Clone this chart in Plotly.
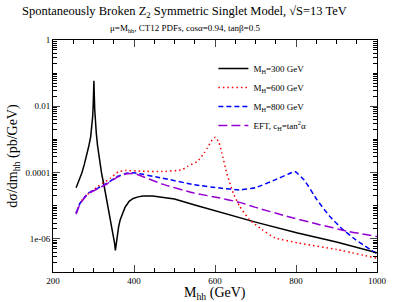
import plotly.graph_objects as go

# ---- data ----
x_300 = [257, 264, 271, 277, 283, 288, 293, 296, 298, 299.5, 300.5, 301, 301.8, 303, 305, 307, 310, 314.6, 320, 326.5, 332, 338, 344, 349, 352, 354, 356, 358, 362, 366, 372, 378, 388, 398, 410, 422, 446, 500, 550, 613, 661, 700, 804, 900, 1000]
y_300 = [3.5e-5, 5.8e-5, 9.5e-5, 1.7e-4, 3.1e-4, 6.0e-4, 1.2e-3, 2.5e-3, 5.0e-3, 1.3e-2, 3.5e-2, 5.9e-2, 2.5e-2, 8.0e-3, 3.0e-3, 1.5e-3, 6.5e-4, 2.5e-4, 9.5e-5, 3.8e-5, 1.65e-5, 7.6e-6, 3.2e-6, 1.3e-6, 7.5e-7, 4.5e-7, 7.0e-7, 1.2e-6, 2.3e-6, 3.8e-6, 6.3e-6, 9.0e-6, 1.35e-5, 1.65e-5, 1.85e-5, 1.95e-5, 1.95e-5, 1.6e-5, 1.05e-5, 6.3e-6, 4.3e-6, 3.2e-6, 1.5e-6, 8.0e-7, 3.8e-7]

x_600 = [257, 267, 279, 311, 342, 362, 380, 420, 470, 517, 533, 557, 573, 581, 593, 601, 610, 617, 629, 645, 661, 685, 716, 748, 804, 900, 1000]
y_600 = [6.0e-6, 1.25e-5, 1.9e-5, 3.8e-5, 6.8e-5, 1.07e-4, 1.15e-4, 1.1e-4, 1.07e-4, 1.2e-4, 1.55e-4, 2.2e-4, 3.9e-4, 5.5e-4, 9.8e-4, 1.17e-3, 8.0e-4, 3.9e-4, 9.5e-5, 2.4e-5, 9.5e-6, 3.8e-6, 1.9e-6, 1.07e-6, 7.6e-7, 4.8e-7, 2.6e-7]

x_800 = [257, 267, 287, 311, 334, 358, 382, 400, 470, 549, 613, 661, 700, 748, 780, 797, 820, 852, 883, 916, 947, 1000]
y_800 = [6.0e-6, 1.2e-5, 2.4e-5, 3.4e-5, 4.8e-5, 7.6e-5, 9.5e-5, 9.8e-5, 6.8e-5, 4.3e-5, 3.4e-5, 3.0e-5, 3.5e-5, 6.0e-5, 8.9e-5, 1.07e-4, 6.0e-5, 1.5e-5, 4.8e-6, 1.9e-6, 9.5e-7, 3.5e-7]

x_eft = [257, 267, 287, 311, 334, 358, 382, 400, 470, 549, 613, 661, 700, 772, 852, 931, 1000]
y_eft = [5.5e-6, 1.15e-5, 2.3e-5, 3.3e-5, 4.6e-5, 7.2e-5, 9.2e-5, 9.4e-5, 4.47e-5, 2.4e-5, 1.7e-5, 1.26e-5, 8.9e-6, 5.0e-6, 2.8e-6, 1.66e-6, 1.17e-6]

x_ticks = [200, 400, 600, 800, 1000]
y_tickvals = [1, 1e-2, 1e-4, 1e-6]
y_ticktext = ["1", "0.01", "0.0001", "1e-06"]

FONT = "Liberation Serif"

fig = go.Figure()
fig.add_trace(go.Scatter(x=x_300, y=y_300, mode="lines", name="M<sub>H</sub>=300 GeV",
                         line=dict(color="black", width=1.5)))
fig.add_trace(go.Scatter(x=x_600, y=y_600, mode="lines", name="M<sub>H</sub>=600 GeV",
                         line=dict(color="#ff0000", width=1.5, dash="1.5px,3px", shape="spline", smoothing=0.4)))
fig.add_trace(go.Scatter(x=x_800, y=y_800, mode="lines", name="M<sub>H</sub>=800 GeV",
                         line=dict(color="#0000ff", width=1.5, dash="5px,3px", shape="spline", smoothing=0.4)))
fig.add_trace(go.Scatter(x=x_eft, y=y_eft, mode="lines", name="EFT, c<sub>H</sub>=tan<sup>2</sup>α",
                         line=dict(color="#9400d3", width=1.5, dash="9px,4px", shape="spline", smoothing=0.4)))

minor_vals = []
for k in range(-7, 0):
    for n in range(1, 10):
        minor_vals.append(n * 10.0 ** k)

fig.update_layout(
    width=399, height=302,
    margin=dict(l=47, r=17, t=40, b=30),
    paper_bgcolor="white", plot_bgcolor="white",
    font=dict(family=FONT, color="black", size=10),
    showlegend=True,
    legend=dict(x=0.495, y=0.94, xanchor="left", yanchor="top",
                bgcolor="rgba(0,0,0,0)", borderwidth=0,
                font=dict(family=FONT, size=9, color="black"),
                itemwidth=30, tracegroupgap=0),
    xaxis=dict(range=[200, 1000], tickvals=x_ticks, ticks="inside", ticklen=7,
               mirror="allticks", showline=True, linecolor="black", linewidth=1,
               showgrid=False, zeroline=False,
               tickfont=dict(family=FONT, size=9),
               minor=dict(dtick=50, ticks="inside", ticklen=4, tickcolor="black")),
    yaxis=dict(type="log", range=[-7, 0], tickvals=y_tickvals, ticktext=y_ticktext,
               ticks="inside", ticklen=7, mirror="allticks", showline=True,
               linecolor="black", linewidth=1, showgrid=False, zeroline=False,
               tickfont=dict(family=FONT, size=9),
               minor=dict(tickvals=minor_vals, ticks="inside", ticklen=4, tickcolor="black"),
               title=dict(text="dσ/dm<sub>hh</sub> (pb/GeV)", font=dict(family=FONT, size=14), standoff=4)),
    annotations=[
        dict(text="Spontaneously Broken Z<sub>2</sub> Symmetric Singlet Model, √S=13 TeV",
             xref="paper", yref="paper", x=0.406, y=1, yshift=28, xanchor="center", yanchor="middle",
             showarrow=False, font=dict(family=FONT, size=12.5)),
        dict(text="μ=M<sub>hh</sub>, CT12 PDFs, cosα=0.94, tanβ=0.5",
             xref="paper", yref="paper", x=0.406, y=1, yshift=12, xanchor="center", yanchor="middle",
             showarrow=False, font=dict(family=FONT, size=9)),
        dict(text="M<sub>hh</sub> (GeV)",
             xref="paper", yref="paper", x=0.5, y=0, yshift=-21, xanchor="center", yanchor="middle",
             showarrow=False, font=dict(family=FONT, size=14)),
    ],
)

fig.write_html("out.html", config={"displayModeBar": False},
               post_script="document.body.style.margin='0';")
